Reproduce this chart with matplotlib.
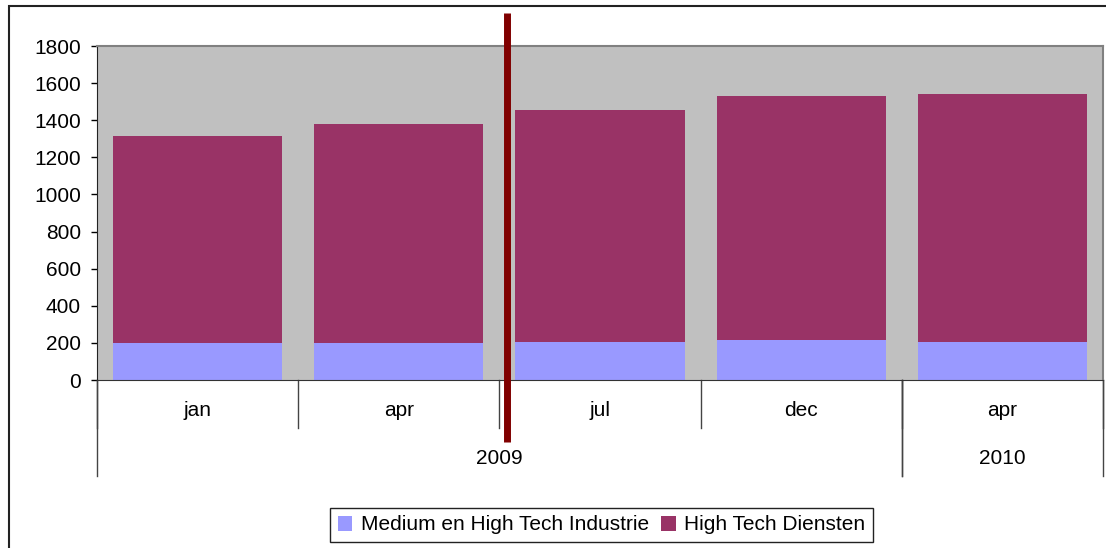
import matplotlib
matplotlib.use('Agg')
import matplotlib.pyplot as plt
import matplotlib.transforms as mtransforms
from matplotlib.patches import Rectangle
import numpy as np

months = ['jan', 'apr', 'jul', 'dec', 'apr']
years = ['2009', '2010']
year_spans = [(0, 4), (4, 5)]   # which month slots belong to which year
industrie = [199, 199, 205, 216, 205]
diensten = [1116, 1182, 1250, 1315, 1337]
series_labels = ['Medium en High Tech Industrie', 'High Tech Diensten']
marker_pos = 2.04   # red marker line, just after the apr/jul boundary

plt.rcParams['font.family'] = ['Liberation Sans', 'DejaVu Sans']
plt.rcParams['font.size'] = 15

fig = plt.figure(figsize=(11.06, 5.48), dpi=100)
ax = fig.add_axes([97 / 1106, 168 / 548, 1006 / 1106, 334 / 548])
ax.set_facecolor('#C0C0C0')

x = np.arange(len(months)) + 0.5
ax.bar(x, industrie, width=0.84, color='#9999FF', label=series_labels[0], zorder=2)
ax.bar(x, diensten, width=0.84, bottom=industrie, color='#993366',
       label=series_labels[1], zorder=2)

ax.set_xlim(0, len(months))
ax.set_ylim(0, 1800)
ax.set_yticks(np.arange(0, 1801, 200))
ax.set_xticks([])
ax.tick_params(axis='y', direction='out', length=4.5, width=1, pad=7, colors='black')

# plot area border: gray top/right, dark left/bottom
ax.spines['top'].set_color('#808080')
ax.spines['right'].set_color('#808080')
ax.spines['top'].set_linewidth(1.5)
ax.spines['right'].set_linewidth(1.5)
ax.spines['left'].set_color('#222222')
ax.spines['bottom'].set_color('#333333')

# multi-level category axis
trans = mtransforms.blended_transform_factory(ax.transData, ax.transAxes)
short_y = -48 / 334
long_y = -96 / 334
for i, m in enumerate(months):
    ax.text(i + 0.5, -31 / 334, m, transform=trans, ha='center', va='center')
for b in range(len(months) + 1):
    ax.plot([b, b], [0, short_y], transform=trans, color='#444444', lw=1, clip_on=False)
for (s, e), yr in zip(year_spans, years):
    ax.text((s + e) / 2, -78 / 334, yr, transform=trans, ha='center', va='center')
    for b in (s, e):
        ax.plot([b, b], [0, long_y], transform=trans, color='#444444', lw=1, clip_on=False)

# red marker line
ax.plot([marker_pos, marker_pos], [367 / 334, -62 / 334], transform=trans,
        color='#800000', lw=5, solid_capstyle='butt', clip_on=False, zorder=5)

leg = fig.legend(loc='center', bbox_to_anchor=(601.5 / 1106, 1 - 525 / 548), ncol=2,
                 frameon=True, fancybox=False, edgecolor='#222222', framealpha=1,
                 handlelength=0.7, handleheight=0.7, handletextpad=0.4,
                 columnspacing=0.6, borderpad=0.35)
leg.get_frame().set_linewidth(1)

# chart area border (cropped on right and bottom in original)
fig.patches.append(Rectangle((9 / 1106, -0.1), 1.2, 0.1 + 1 - 6 / 548,
                             transform=fig.transFigure, fill=False,
                             edgecolor='#222222', lw=1.5))

plt.savefig('out.png', dpi=100)
plt.close()
